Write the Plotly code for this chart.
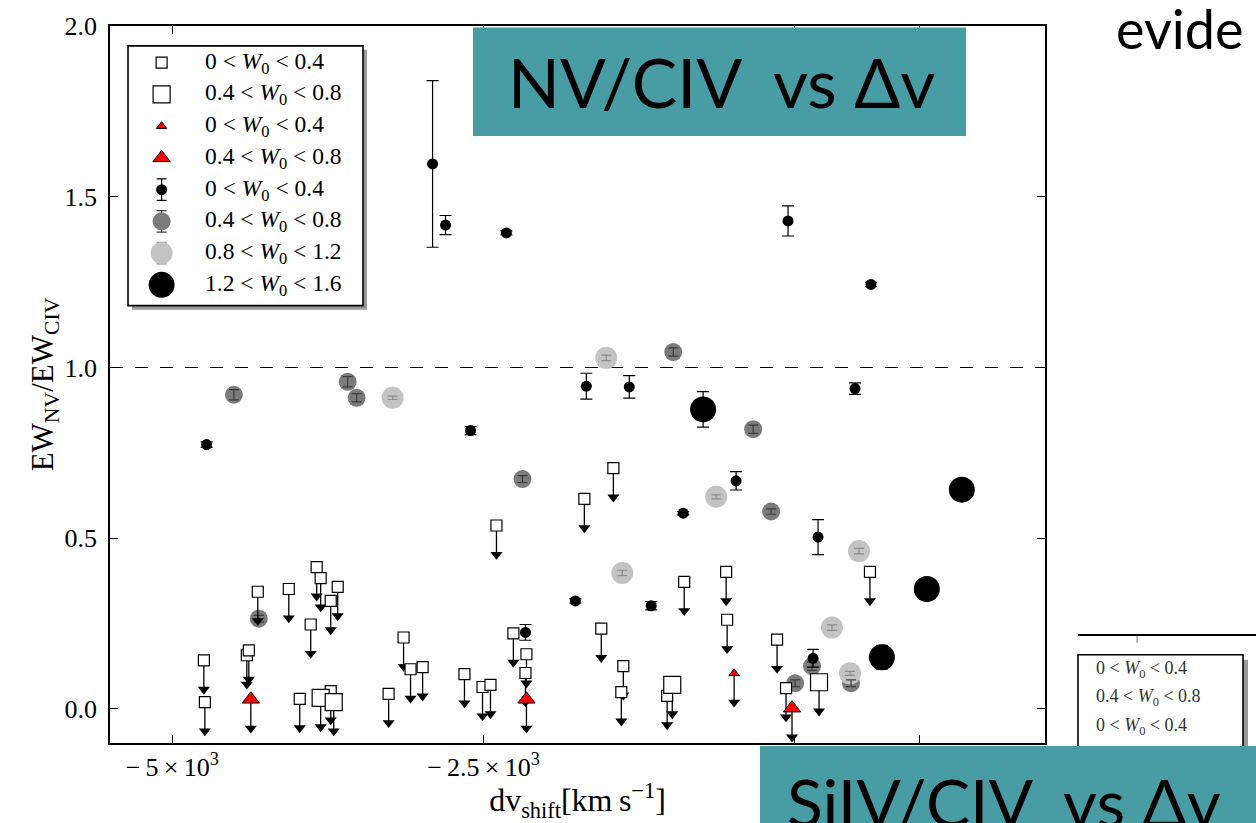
import plotly.graph_objects as go

# ---------------- data ----------------
# upper limits, open squares, 0 < W0 < 0.4
lim_sq_small_x = [-4746, -4738, -4401, -4385, -4313, -4064, -3840, -3808, -3727, -3671,
                  -3888, -3976, -3727, -3142, -3086, -2989, -3262, -2653, -2508, -2444,
                  -2396, -2260, -2155, -2163, -1690, -1457, -1554, -1377, -1393, -1025,
                  -888, -551, -543, -142, -70, 604]
lim_sq_small_y = [0.142, 0.020, 0.157, 0.171, 0.343, 0.351, 0.415, 0.383, 0.316, 0.357,
                  0.247, 0.029, 0.052, 0.209, 0.116, 0.122, 0.044, 0.102, 0.064, 0.070,
                  0.537, 0.221, 0.160, 0.105, 0.615, 0.705, 0.235, 0.125, 0.049, 0.038,
                  0.372, 0.401, 0.261, 0.203, 0.061, 0.401]
# upper limits, open squares, 0.4 < W0 < 0.8
lim_sq_large_x = [-3808, -3703, -984, 195]
lim_sq_large_y = [0.032, 0.020, 0.070, 0.078]
# upper limits, red triangles
lim_tri_small_x = [-487]
lim_tri_small_y = [0.104]
lim_tri_large_x = [-4369, -2155, -22]
lim_tri_large_y = [0.028, 0.028, 0.002]

# detections, 0 < W0 < 0.4 (small black)
det1_x = [-4724, -2909, -2805, -2604, -2316, -2163, -1762, -1674, -1329, -1153,
          -896, -471, -54, 147, 187, 484, 612]
det1_y = [0.774, 1.596, 1.417, 0.815, 1.394, 0.224, 0.316, 0.945, 0.943, 0.302,
          0.573, 0.668, 1.429, 0.148, 0.503, 0.938, 1.243]
det1_err = [0.008, 0.244, 0.028, 0.012, 0.006, 0.023, 0.006, 0.038, 0.033, 0.012,
            0.005, 0.027, 0.044, 0.026, 0.051, 0.017, 0.006]
# detections, 0.4 < W0 < 0.8 (dark grey)
det2_x = [-4505, -3591, -3519, -2187, -976, -334, -190, -4305, 139, 3, 452]
det2_y = [0.920, 0.958, 0.911, 0.673, 1.045, 0.819, 0.578, 0.264, 0.125, 0.075, 0.075]
det2_err = [0.015, 0.015, 0.012, 0.010, 0.012, 0.012, 0.008, 0.010, 0.012, 0.010, 0.010]
# detections, 0.8 < W0 < 1.2 (light grey)
det3_x = [-3230, -1514, -631, 516, -1385, 299, 444]
det3_y = [0.911, 1.028, 0.621, 0.462, 0.398, 0.238, 0.104]
det3_err = [0.005, 0.008, 0.006, 0.008, 0.008, 0.008, 0.006]
# detections, 1.2 < W0 < 1.6 (large black)
det4_x = [-736, 1342, 1061, 700]
det4_y = [0.877, 0.642, 0.351, 0.151]
det4_err = [0.052, 0.010, 0.010, 0.035]

ref_ratio = 1.0

x_tickvals = [-5000, -2500, 0, 1000]
x_ticktext = ["\u2212\u20095\u2009\u00d7\u200910<sup>3</sup>",
              "\u2212\u20092.5\u2009\u00d7\u200910<sup>3</sup>", "", ""]
y_tickvals = [0.0, 0.5, 1.0, 1.5, 2.0]
y_ticktext = ["0.0", "0.5", "1.0", "1.5", "2.0"]

legend_labels = [
    "0 &lt; <i>W</i><sub>0</sub> &lt; 0.4",
    "0.4 &lt; <i>W</i><sub>0</sub> &lt; 0.8",
    "0 &lt; <i>W</i><sub>0</sub> &lt; 0.4",
    "0.4 &lt; <i>W</i><sub>0</sub> &lt; 0.8",
    "0 &lt; <i>W</i><sub>0</sub> &lt; 0.4",
    "0.4 &lt; <i>W</i><sub>0</sub> &lt; 0.8",
    "0.8 &lt; <i>W</i><sub>0</sub> &lt; 1.2",
    "1.2 &lt; <i>W</i><sub>0</sub> &lt; 1.6",
]
frag_labels = [
    "0 &lt; <i>W</i><sub>0</sub> &lt; 0.4",
    "0.4 &lt; <i>W</i><sub>0</sub> &lt; 0.8",
    "0 &lt; <i>W</i><sub>0</sub> &lt; 0.4",
]

# ---------------- layout helpers ----------------
W, H = 1256, 823
PL, PR, PT, PB = 110, 1045, 20, 743


def pxp(xp):
    return (xp - PL) / (PR - PL)


def pyp(yp):
    return (PB - yp) / (PB - PT)


SERIF = "Liberation Serif"
SANS = "Lato"
TEAL = "#489ca3"
ARROW = 0.085

s_small_sq = dict(symbol="square", size=11, color="white", line=dict(color="black", width=1.2))
s_large_sq = dict(symbol="square", size=17, color="white", line=dict(color="black", width=1.2))
s_small_tri = dict(symbol="triangle-up", size=9, color="#ff0000", line=dict(color="black", width=1))
s_large_tri = dict(symbol="triangle-up", size=15, color="#ff0000", line=dict(color="black", width=1))
s_det1 = dict(symbol="circle", size=11, color="black", line=dict(width=0))
s_det2 = dict(symbol="circle", size=18, color="#7b7b7b", line=dict(width=0))
s_det3 = dict(symbol="circle", size=22, color="#c3c3c3", line=dict(width=0))
s_det4 = dict(symbol="circle", size=26, color="black", line=dict(width=0))

fig = go.Figure()

# grey detections
fig.add_trace(go.Scatter(x=det2_x, y=det2_y, mode="markers", marker=s_det2, showlegend=False, hoverinfo="skip"))
fig.add_trace(go.Scatter(x=det3_x, y=det3_y, mode="markers", marker=s_det3, showlegend=False, hoverinfo="skip"))
# their error bars drawn on top
fig.add_trace(go.Scatter(x=det2_x, y=det2_y, mode="markers",
                         marker=dict(size=1, color="rgba(0,0,0,0)"),
                         error_y=dict(type="data", array=det2_err, color="#3c3c3c", thickness=1.2, width=5),
                         showlegend=False, hoverinfo="skip"))
fig.add_trace(go.Scatter(x=det3_x, y=det3_y, mode="markers",
                         marker=dict(size=1, color="rgba(0,0,0,0)"),
                         error_y=dict(type="data", array=det3_err, color="#8c8c8c", thickness=1.2, width=5),
                         showlegend=False, hoverinfo="skip"))
# black detections
fig.add_trace(go.Scatter(x=det1_x, y=det1_y, mode="markers", marker=s_det1,
                         error_y=dict(type="data", array=det1_err, color="black", thickness=1.2, width=6),
                         showlegend=False, hoverinfo="skip"))
fig.add_trace(go.Scatter(x=det4_x, y=det4_y, mode="markers", marker=s_det4,
                         error_y=dict(type="data", array=det4_err, color="black", thickness=1.2, width=6),
                         showlegend=False, hoverinfo="skip"))

# upper-limit arrows
lim_x = lim_sq_small_x + lim_sq_large_x + lim_tri_small_x + lim_tri_large_x
lim_y = lim_sq_small_y + lim_sq_large_y + lim_tri_small_y + lim_tri_large_y
ax, ay = [], []
for xv, yv in zip(lim_x, lim_y):
    ax += [xv, xv, None]
    ay += [yv, yv - ARROW, None]
fig.add_trace(go.Scatter(x=ax, y=ay, mode="lines", line=dict(color="black", width=1.3),
                         showlegend=False, hoverinfo="skip"))
fig.add_trace(go.Scatter(x=lim_x, y=[v - ARROW for v in lim_y], mode="markers",
                         marker=dict(symbol="triangle-down", size=10.5, color="black", line=dict(width=0)),
                         showlegend=False, hoverinfo="skip"))
# limit symbols
fig.add_trace(go.Scatter(x=lim_sq_small_x, y=lim_sq_small_y, mode="markers", marker=s_small_sq, showlegend=False, hoverinfo="skip"))
fig.add_trace(go.Scatter(x=lim_sq_large_x, y=lim_sq_large_y, mode="markers", marker=s_large_sq, showlegend=False, hoverinfo="skip"))
fig.add_trace(go.Scatter(x=lim_tri_small_x, y=lim_tri_small_y, mode="markers", marker=s_small_tri, showlegend=False, hoverinfo="skip"))
fig.add_trace(go.Scatter(x=lim_tri_large_x, y=lim_tri_large_y, mode="markers", marker=s_large_tri, showlegend=False, hoverinfo="skip"))

# ---------------- hand-drawn legend (own axes) ----------------
leg_styles = [s_small_sq, s_large_sq, s_small_tri, s_large_tri, s_det1, s_det2, s_det3, s_det4]
leg_err_col = [None, None, None, None, "black", "#3c3c3c", "#8c8c8c", "black"]
for i, (lab, st, ec) in enumerate(zip(legend_labels, leg_styles, leg_err_col)):
    kw = {}
    if ec is not None:
        kw["error_y"] = dict(type="data", array=[0.34], color=ec, thickness=1.2, width=5)
    fig.add_trace(go.Scatter(x=[0.14], y=[i + 1], xaxis="x2", yaxis="y2", mode="markers",
                             marker=st, showlegend=False, hoverinfo="skip", **kw))

annotations = []
for i, lab in enumerate(legend_labels):
    annotations.append(dict(x=0.318, y=i + 1, xref="x2", yref="y2", text=lab, showarrow=False,
                            xanchor="left", yanchor="middle",
                            font=dict(family=SERIF, size=23.5, color="black")))

# ---------------- shapes ----------------
shapes = [
    dict(type="line", xref="paper", yref="y", x0=0, x1=1, y0=ref_ratio, y1=ref_ratio,
         line=dict(color="black", width=1.1, dash="13px,12px"), layer="below"),
    # legend shadow + box
    dict(type="rect", xref="paper", yref="paper", x0=pxp(132), x1=pxp(367), y0=pyp(306), y1=pyp(44),
         fillcolor="#9a9a9a", line=dict(width=0), layer="below"),
    dict(type="rect", xref="paper", yref="paper", x0=pxp(128), x1=pxp(363), y0=pyp(302), y1=pyp(40),
         fillcolor="white", line=dict(color="black", width=1.6), layer="below"),
    # fragment of neighbouring chart (bottom right)
    dict(type="line", xref="paper", yref="paper", x0=pxp(1078), x1=pxp(1258), y0=pyp(634), y1=pyp(634),
         line=dict(color="black", width=2), layer="above"),
    dict(type="line", xref="paper", yref="paper", x0=pxp(1137), x1=pxp(1137), y0=pyp(635), y1=pyp(642),
         line=dict(color="#777", width=1), layer="above"),
    dict(type="rect", xref="paper", yref="paper", x0=pxp(1083), x1=pxp(1248), y0=pyp(770), y1=pyp(659),
         fillcolor="#9a9a9a", line=dict(width=0), layer="above"),
    dict(type="rect", xref="paper", yref="paper", x0=pxp(1078), x1=pxp(1243), y0=pyp(770), y1=pyp(654),
         fillcolor="white", line=dict(color="black", width=1.6), layer="above"),
    # teal title boxes
    dict(type="rect", xref="paper", yref="paper", x0=pxp(473), x1=pxp(966), y0=pyp(131), y1=pyp(21.5),
         fillcolor=TEAL, line=dict(width=0), layer="above"),
    dict(type="rect", xref="paper", yref="paper", x0=pxp(760), x1=pxp(1260), y0=pyp(830), y1=pyp(746),
         fillcolor=TEAL, line=dict(width=0), layer="above"),
]

for k, lab in enumerate(frag_labels):
    annotations.append(dict(x=pxp(1094), y=pyp(669 + 28.5 * k), xref="paper", yref="paper", text=lab,
                            showarrow=False, xanchor="left", yanchor="middle",
                            font=dict(family=SERIF, size=18, color="#333")))

nb = "\u00a0"
annotations += [
    dict(x=pxp(721), y=pyp(76), xref="paper", yref="paper", showarrow=False,
         text="NV/CIV" + nb * 2 + "vs \u0394v", xanchor="center", yanchor="middle",
         font=dict(family=SANS, size=68, color="black")),
    dict(x=pxp(785), y=pyp(802), xref="paper", yref="paper", showarrow=False,
         text="SiIV/CIV" + nb * 2 + "vs \u0394v", xanchor="left", yanchor="middle",
         font=dict(family=SANS, size=66, color="black")),
    dict(x=pxp(1114), y=pyp(23), xref="paper", yref="paper", showarrow=False,
         text="evide", xanchor="left", yanchor="middle",
         font=dict(family=SANS, size=54, color="black")),
]

fig.update_layout(
    width=W, height=H,
    margin=dict(l=PL, r=W - PR, t=PT, b=H - PB, pad=0),
    paper_bgcolor="white", plot_bgcolor="rgba(255,255,255,0)",
    showlegend=False,
    xaxis=dict(range=[-5500, 2010], tickvals=x_tickvals, ticktext=x_ticktext,
               ticks="inside", ticklen=8, tickwidth=1.2, tickcolor="black",
               showline=True, linecolor="black", linewidth=1.8, mirror="ticks",
               showgrid=False, zeroline=False,
               tickfont=dict(family=SERIF, size=26, color="black"),
               title=dict(text="dv<sub>shift</sub>[km\u2009s<sup>\u22121</sup>]",
                          font=dict(family=SERIF, size=32, color="black"), standoff=2)),
    yaxis=dict(range=[-0.1, 2.0], tickvals=y_tickvals, ticktext=y_ticktext,
               ticks="inside", ticklen=8, tickwidth=1.2, tickcolor="black",
               showline=True, linecolor="black", linewidth=1.8, mirror="ticks",
               showgrid=False, zeroline=False, ticklabelstandoff=6,
               tickfont=dict(family=SERIF, size=26, color="black"),
               title=dict(text="EW<sub>NV</sub>/EW<sub>CIV</sub>",
                          font=dict(family=SERIF, size=31, color="black"), standoff=2)),
    xaxis2=dict(domain=[pxp(129), pxp(362)], range=[0, 1], visible=False, anchor="y2"),
    yaxis2=dict(domain=[pyp(301), pyp(41)], range=[8.625, 0.5], visible=False, anchor="x2"),
    shapes=shapes,
    annotations=annotations,
)

fig.write_html("out.html")
